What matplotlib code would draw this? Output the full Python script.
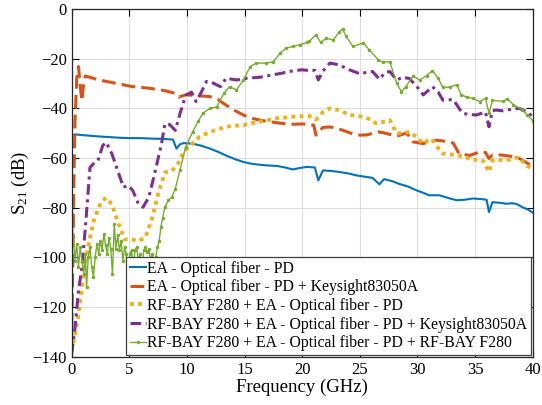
import numpy as np
import matplotlib
matplotlib.use('Agg')
import matplotlib.pyplot as plt

plt.rcParams['font.family'] = ['Liberation Serif', 'DejaVu Serif']
plt.rcParams['mathtext.fontset'] = 'custom'
plt.rcParams['mathtext.rm'] = 'Liberation Serif'
plt.rcParams['mathtext.it'] = 'Liberation Serif:italic'

labels = ['EA - Optical fiber - PD',
          'EA - Optical fiber - PD + Keysight83050A',
          'RF-BAY F280 + EA - Optical fiber - PD',
          'RF-BAY F280 + EA - Optical fiber - PD + Keysight83050A',
          'RF-BAY F280 + EA - Optical fiber - PD + RF-BAY F280']

f_ea = [0, 0.3, 1, 2, 3, 4, 5, 6, 7, 8, 8.8, 9.1, 9.4, 9.7, 10.5, 11.2, 12, 12.7, 13.4, 14.2,
        14.9, 15.6, 16.3, 17, 17.8, 18.5, 19.2, 19.8, 20.4, 21.1, 21.4, 21.8, 22.5, 23.2, 24,
        24.7, 25.4, 26.1, 26.7, 27.1, 27.8, 28.4, 29.2, 29.9, 30.5, 31, 31.9, 32.6, 33.4, 34.1,
        34.8, 35.5, 36, 36.2, 36.5, 37.1, 37.7, 38.2, 38.6, 39.1, 39.6, 40]
s_ea = [-51, -50.5, -50.8, -51.2, -51.5, -51.8, -52, -52, -52.2, -52.3, -52.6, -56.2, -54.5, -54,
        -54.2, -55, -56.2, -57.5, -59, -60.5, -61.6, -62.3, -62.7, -63, -63.2, -63.8, -64.6, -64,
        -63.6, -63.8, -69, -65, -65.2, -65.6, -66.2, -67, -67.5, -68, -70.6, -68.5, -69.3, -70.4,
        -71.5, -73, -74, -75, -75, -76, -77, -76.8, -76.3, -76.5, -76.8, -81.8, -77.8, -78,
        -78.4, -78.2, -78.5, -79.8, -80.8, -82]

f_ks = [0, 0.1, 0.2, 0.3, 0.45, 0.6, 0.75, 0.9, 1.05, 1.2, 2.3, 3.8, 5.2, 6.7, 8.1, 9, 9.3, 9.6,
        10, 10.5, 11.2, 12, 12.7, 13.4, 14.2, 14.9, 15.6, 16.3, 17, 17.8, 18.5, 19.2, 20, 20.6,
        21.0, 21.2, 21.4, 21.8, 22.4, 23, 23.5, 24.2, 25, 25.6, 26.1, 26.6, 27, 27.6, 28.2, 28.7,
        29, 29.3, 29.6, 30.5, 31, 31.6, 32.3, 33.1, 33.6, 34, 34.5, 35, 35.4, 35.9, 36.2, 36.5,
        36.8, 37.6, 38.6, 39.1, 39.5, 40]
s_ks = [-136, -105, -70, -45, -28, -23.2, -31, -37, -30, -27, -28.5, -29.9, -31.2, -31.9, -32.9,
        -34, -35.5, -35, -34.5, -34.8, -35, -35.3, -36.5, -38.7, -41, -42.7, -44, -44.7, -45.3,
        -45.8, -46.2, -46.4, -46.3, -46.5, -46.8, -50.8, -49.5, -47.7, -47.5, -48, -48.8, -50,
        -50.8, -50.7, -50.1, -49.5, -49.8, -50.5, -51.2, -50.5, -50, -51.2, -53.5, -54.2, -53.5,
        -52.8, -53.2, -54, -58.2, -58.5, -59, -58.2, -57.5, -57.8, -60.2, -58.8, -58.6, -59,
        -59.6, -60.9, -62, -63.6]

f_rf = [0, 0.3, 0.6, 0.9, 1.2, 1.6, 2, 2.6, 3, 3.5, 4.1, 4.6, 5.2, 5.8, 6.4, 7, 7.5, 8.1, 8.7,
        9.2, 9.8, 10.3, 11.1, 12, 12.7, 13.4, 14.2, 14.9, 15.6, 16.3, 17, 17.8, 18.5, 19.2, 20,
        20.6, 21.2, 21.8, 22.4, 23.2, 24.1, 24.7, 25.3, 25.9, 26.4, 27, 27.6, 28.2, 28.7, 29.3,
        29.9, 30.5, 30.9, 31.3, 31.8, 32.2, 32.8, 33.4, 34.1, 34.8, 35.3, 35.7, 36.2, 36.5, 36.8,
        37.4, 38, 38.4, 38.8, 39.4, 40]
s_rf = [-137.7, -131, -123, -112.3, -101.6, -92, -84, -77.4, -76, -78.7, -86.8, -92.7, -92.7,
        -93.4, -92, -84, -74.6, -65.8, -65.2, -62.5, -57.1, -55, -51.5, -49.5, -48.5, -47.4, -47,
        -46.8, -46, -45.4, -44.8, -44, -43.7, -43.4, -43.2, -43.1, -44.5, -41.5, -40, -40.7,
        -42.7, -43, -43.4, -44.5, -46, -45.5, -44.7, -50.1, -50, -49.5, -51.5, -54.2, -53, -52.5,
        -56, -58.2, -58.5, -58.9, -59.5, -60.9, -60.5, -61.2, -65.6, -61, -60.5, -61, -60.6, -60,
        -59.6, -63, -64.3]

f_rfks = [0, 0.3, 0.6, 0.9, 1.2, 1.6, 2, 2.3, 2.7, 3, 3.5, 4.1, 4.5, 4.9, 5.3, 5.8, 6.2, 6.7, 7.2,
          7.8, 8.1, 8.5, 9, 9.4, 9.9, 10.4, 10.8, 11.2, 11.7, 12.3, 12.9, 13.4, 14.3, 15.2, 16.3,
          17.5, 18.3, 19.2, 20, 20.6, 21.1, 21.4, 21.8, 22.4, 23.2, 24.1, 25, 25.6, 26.1, 26.7,
          27.2, 27.6, 28.2, 28.7, 29.3, 29.9, 30.5, 31.3, 31.8, 32.2, 33.1, 33.9, 34.5, 35.1,
          35.9, 36.2, 36.5, 36.8, 37.4, 38, 38.8, 39.3, 39.7, 40]
s_rfks = [-139, -128.3, -113.5, -104, -88, -63.8, -61.8, -61, -55, -53.7, -58.3, -66.4, -71.8,
          -71, -73, -78.5, -79.8, -75.8, -66.4, -54.3, -46.2, -46.5, -48.9, -42.2, -34.8, -33.5,
          -37.3, -34, -29.2, -29.9, -31.3, -27.9, -28.6, -27.9, -27.5, -26.5, -25.8, -24.9,
          -24.5, -24.8, -24.7, -28.6, -25, -21.8, -22.5, -24.5, -26.1, -25.5, -25.2, -28.3,
          -25.5, -25.2, -28.6, -27.5, -28, -31, -34.6, -31.3, -33.5, -36.7, -36.5, -42, -42.5,
          -42.7, -41.5, -47.4, -41, -40.7, -41, -40.5, -40, -41, -42, -44]

f_rfrf = [0, 0.15, 0.3, 0.45, 0.6, 0.75, 0.9, 1.05, 1.2, 1.3, 1.45, 1.6, 1.75, 1.9, 2.05, 2.2,
          2.35, 2.5, 2.65, 2.8, 2.95, 3.1, 3.25, 3.4, 3.55, 3.7, 3.85, 4.0, 4.15, 4.3, 4.45, 4.6,
          4.75, 4.9, 5.05, 5.2, 5.35, 5.5, 5.65, 5.8, 5.95, 6.1, 6.25, 6.4, 6.55, 6.7, 6.85, 7.0,
          7.15, 7.3, 7.45, 7.6, 7.75, 7.9, 8.1, 8.4, 8.7, 9.0, 9.4, 9.9, 10.5, 11.0, 11.4, 12,
          12.6, 13.2, 13.7, 14.3, 14.9, 15.5, 16, 16.9, 17.5, 18.1, 18.6, 19.2, 19.8, 20.4, 20.6,
          21.2, 21.6, 22.1, 22.7, 23.2, 23.5, 23.8, 24.4, 25.3, 25.8, 26.6, 27, 27.6, 28.2, 28.6,
          29, 29.6, 30.2, 30.8, 31.3, 31.8, 32.2, 32.8, 33.4, 33.8, 34.3, 34.8, 35.4, 35.9, 36.2,
          36.5, 37.4, 37.8, 38.3, 39.1, 39.5, 40]
s_rfrf = [-82.4, -91.8, -101.3, -94.5, -104, -95.9, -101.3, -106.6, -98.6, -112, -99.9, -95.9,
          -104, -108, -99.9, -94.5, -98.6, -93.2, -97, -90.5, -95.2, -98.6, -92, -96.6, -106.6,
          -86.5, -96.6, -91, -97.2, -93.2, -101.3, -96, -98.6, -113.4, -98.6, -97.2, -104, -97.2,
          -95.9, -101.3, -98.6, -108, -97.2, -95.9, -98, -96.6, -101.3, -98.6, -101.3, -99.9,
          -95.9, -93.2, -87.8, -84, -79.7, -77, -75.7, -72.3, -64.9, -55.5, -49.5, -45, -42, -40,
          -39.4, -34, -31.3, -32.6, -28.6, -23.2, -21.8, -21.8, -21.2, -17.8, -15.8, -15.1, -14.4,
          -13.5, -13.1, -10.4, -13.5, -11.8, -12.5, -9.4, -8.1, -11, -15.1, -13.7, -16.4, -20.5,
          -21.5, -21.2, -29.9, -33.3, -31.3, -27, -28.6, -26.8, -24.8, -28, -31.5, -31.5, -30.5,
          -34.6, -35.5, -36, -37.3, -36, -42, -36.8, -37.2, -36.1, -38.5, -40.7, -42.5, -45]

xticks = np.arange(0, 41, 5)
yticks = np.arange(-140, 1, 20)

fig = plt.figure(figsize=(5.42, 4.05), dpi=100)
ax = fig.add_axes([0.132, 0.119, 0.851, 0.859])

ax.plot(f_ea, s_ea, color='#0072BD', linewidth=1.5, label=labels[0])
ax.plot(f_ks, s_ks, color='#D95319', linewidth=2.2, dashes=(4.5, 2), label=labels[1])
ax.plot(f_rf, s_rf, color='#EDB120', linewidth=2.8, dashes=(1, 1.1), label=labels[2])
ax.plot(f_rfks, s_rfks, color='#7E2F8E', linewidth=2.2, dashes=(3.5, 1.5, 1, 1.5), label=labels[3])
ax.plot(f_rfrf, s_rfrf, color='#77AC30', linewidth=1.0, marker='.', markersize=3, label=labels[4])

ax.set_xlim(0, 40)
ax.set_ylim(-140, 0)
ax.set_xticks(xticks)
ax.set_yticks(yticks)
ax.tick_params(direction='in', top=True, right=True, labelsize=12, length=5, width=0.8)
ax.grid(True, color='#dedede', linewidth=0.8)
ax.set_axisbelow(True)
for sp in ax.spines.values():
    sp.set_linewidth(0.9)
    sp.set_color('#262626')
ax.set_xlabel('Frequency (GHz)', fontsize=13.5, labelpad=1)
ax.set_ylabel(r'S$_{21}$ (dB)', fontsize=13.5, labelpad=1)

leg = ax.legend(loc='lower right', fontsize=11.3, handlelength=1.0, handletextpad=0.1,
                labelspacing=0.17, borderpad=0.25, borderaxespad=0.1, fancybox=False,
                framealpha=1, edgecolor='#404040', numpoints=1)
leg.get_frame().set_linewidth(0.9)

fig.savefig('out.png', dpi=100)
